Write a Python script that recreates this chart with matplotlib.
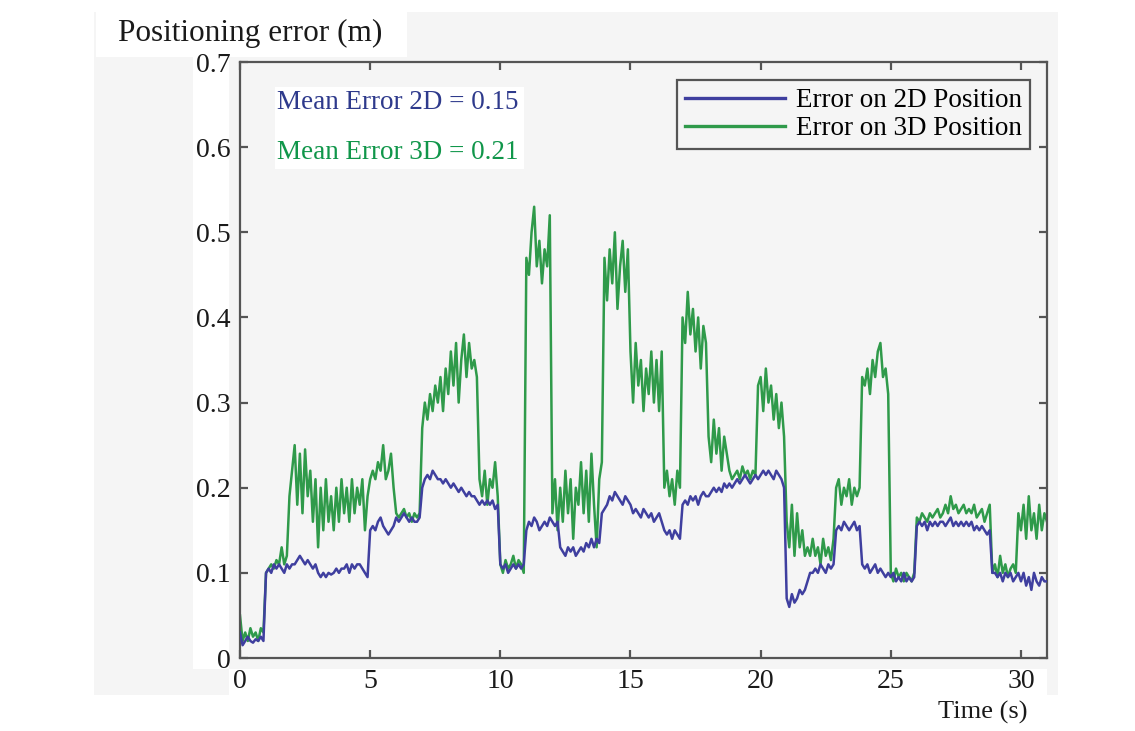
import numpy as np
import matplotlib
matplotlib.use("Agg")
import matplotlib.pyplot as plt
from matplotlib.patches import Rectangle

# ---------------- data (0.1 s sampling, t = 0.0 ... 31.0) ----------------
time_s = np.round(np.arange(0, 311) * 0.1, 1)

err_2d = [
    0.03, 0.015, 0.02, 0.025, 0.02, 0.018, 0.022, 0.02, 0.025, 0.02,          # 0
    0.10, 0.105, 0.10, 0.11, 0.105, 0.11, 0.105, 0.10, 0.11, 0.105,           # 1
    0.11, 0.11, 0.115, 0.12, 0.115, 0.11, 0.115, 0.11, 0.105, 0.11,           # 2
    0.10, 0.095, 0.10, 0.095, 0.10, 0.098, 0.10, 0.105, 0.10, 0.105,          # 3
    0.105, 0.11, 0.10, 0.11, 0.105, 0.11, 0.11, 0.105, 0.10, 0.095,           # 4
    0.15, 0.155, 0.15, 0.16, 0.165, 0.155, 0.15, 0.145, 0.15, 0.155,          # 5
    0.165, 0.16, 0.165, 0.17, 0.165, 0.16, 0.165, 0.16, 0.16, 0.165,          # 6
    0.20, 0.21, 0.215, 0.21, 0.22, 0.215, 0.21, 0.21, 0.205, 0.21,            # 7
    0.205, 0.20, 0.205, 0.20, 0.195, 0.20, 0.195, 0.19, 0.195, 0.19,          # 8
    0.19, 0.185, 0.18, 0.185, 0.18, 0.185, 0.18, 0.185, 0.175, 0.18,          # 9
    0.11, 0.105, 0.11, 0.10, 0.105, 0.11, 0.105, 0.11, 0.105, 0.11,           # 10
    0.15, 0.16, 0.155, 0.165, 0.16, 0.15, 0.155, 0.16, 0.155, 0.165,          # 11
    0.16, 0.155, 0.16, 0.13, 0.125, 0.12, 0.13, 0.125, 0.13, 0.12,            # 12
    0.125, 0.13, 0.125, 0.135, 0.13, 0.14, 0.13, 0.14, 0.135, 0.17,           # 13
    0.175, 0.18, 0.19, 0.185, 0.195, 0.19, 0.185, 0.18, 0.19, 0.185,          # 14
    0.18, 0.17, 0.175, 0.17, 0.165, 0.175, 0.17, 0.165, 0.17, 0.16,           # 15
    0.165, 0.17, 0.16, 0.15, 0.145, 0.15, 0.14, 0.15, 0.145, 0.14,            # 16
    0.18, 0.185, 0.18, 0.19, 0.185, 0.19, 0.18, 0.19, 0.195, 0.19,            # 17
    0.19, 0.195, 0.20, 0.195, 0.20, 0.195, 0.205, 0.20, 0.205, 0.20,          # 18
    0.205, 0.21, 0.205, 0.21, 0.215, 0.21, 0.205, 0.21, 0.215, 0.21,          # 19
    0.215, 0.22, 0.215, 0.22, 0.215, 0.21, 0.22, 0.215, 0.21, 0.20,           # 20
    0.07, 0.06, 0.075, 0.065, 0.07, 0.08, 0.075, 0.08, 0.09, 0.10,            # 21
    0.10, 0.105, 0.10, 0.11, 0.105, 0.10, 0.11, 0.105, 0.11, 0.15,            # 22
    0.155, 0.15, 0.16, 0.155, 0.15, 0.155, 0.16, 0.15, 0.155, 0.11,           # 23
    0.105, 0.11, 0.10, 0.105, 0.11, 0.10, 0.105, 0.10, 0.095, 0.10,           # 24
    0.095, 0.10, 0.09, 0.095, 0.09, 0.10, 0.09, 0.095, 0.09, 0.095,           # 25
    0.155, 0.16, 0.155, 0.16, 0.15, 0.16, 0.155, 0.16, 0.155, 0.16,           # 26
    0.16, 0.155, 0.16, 0.165, 0.155, 0.16, 0.155, 0.16, 0.155, 0.16,          # 27
    0.155, 0.16, 0.15, 0.155, 0.15, 0.155, 0.15, 0.145, 0.15, 0.10,           # 28
    0.10, 0.095, 0.10, 0.09, 0.10, 0.095, 0.10, 0.09, 0.095, 0.10,            # 29
    0.09, 0.10, 0.085, 0.095, 0.08, 0.10, 0.09, 0.085, 0.095, 0.09,           # 30
    0.09,                                                                      # 31.0
]

err_3d = [
    0.05, 0.02, 0.03, 0.02, 0.035, 0.025, 0.03, 0.02, 0.035, 0.03,            # 0
    0.10, 0.105, 0.11, 0.105, 0.115, 0.11, 0.13, 0.11, 0.12, 0.19,            # 1
    0.22, 0.25, 0.18, 0.24, 0.17, 0.245, 0.19, 0.22, 0.16, 0.21,              # 2
    0.13, 0.20, 0.15, 0.21, 0.16, 0.19, 0.15, 0.20, 0.16, 0.21,               # 3
    0.17, 0.20, 0.16, 0.21, 0.17, 0.20, 0.18, 0.21, 0.15, 0.19,               # 4
    0.21, 0.22, 0.21, 0.23, 0.22, 0.25, 0.21, 0.22, 0.24, 0.20,               # 5
    0.17, 0.165, 0.17, 0.175, 0.165, 0.17, 0.16, 0.17, 0.165, 0.17,           # 6
    0.27, 0.30, 0.28, 0.31, 0.29, 0.32, 0.30, 0.33, 0.29, 0.34,               # 7
    0.31, 0.36, 0.32, 0.37, 0.30, 0.35, 0.38, 0.33, 0.37, 0.34,               # 8
    0.35, 0.33, 0.21, 0.19, 0.22, 0.18, 0.21, 0.20, 0.23, 0.19,               # 9
    0.11, 0.10, 0.115, 0.105, 0.11, 0.12, 0.105, 0.115, 0.11, 0.10,           # 10
    0.47, 0.45, 0.50, 0.53, 0.46, 0.49, 0.44, 0.48, 0.46, 0.52,               # 11
    0.17, 0.21, 0.15, 0.20, 0.16, 0.22, 0.17, 0.21, 0.14, 0.20,               # 12
    0.18, 0.23, 0.17, 0.22, 0.16, 0.24, 0.18, 0.13, 0.21, 0.23,               # 13
    0.47, 0.42, 0.48, 0.44, 0.50, 0.41, 0.46, 0.49, 0.43, 0.48,               # 14
    0.36, 0.30, 0.37, 0.32, 0.35, 0.29, 0.34, 0.31, 0.36, 0.30,               # 15
    0.35, 0.29, 0.36, 0.20, 0.22, 0.19, 0.21, 0.18, 0.22, 0.20,               # 16
    0.40, 0.37, 0.43, 0.38, 0.41, 0.36, 0.40, 0.34, 0.39, 0.37,               # 17
    0.26, 0.23, 0.28, 0.24, 0.27, 0.22, 0.26, 0.24, 0.22, 0.21,               # 18
    0.215, 0.22, 0.21, 0.225, 0.215, 0.22, 0.21, 0.22, 0.215, 0.32,           # 19
    0.33, 0.29, 0.34, 0.30, 0.32, 0.28, 0.31, 0.27, 0.30, 0.26,               # 20
    0.16, 0.13, 0.18, 0.12, 0.17, 0.13, 0.15, 0.12, 0.13, 0.12,               # 21
    0.14, 0.12, 0.13, 0.11, 0.14, 0.12, 0.13, 0.115, 0.14, 0.20,              # 22
    0.21, 0.18, 0.20, 0.19, 0.21, 0.18, 0.20, 0.19, 0.20, 0.33,               # 23
    0.32, 0.34, 0.31, 0.35, 0.33, 0.36, 0.37, 0.33, 0.34, 0.31,               # 24
    0.10, 0.09, 0.105, 0.095, 0.10, 0.09, 0.10, 0.095, 0.09, 0.10,            # 25
    0.165, 0.16, 0.17, 0.165, 0.16, 0.17, 0.165, 0.17, 0.175, 0.165,          # 26
    0.17, 0.18, 0.17, 0.19, 0.175, 0.18, 0.17, 0.175, 0.18, 0.17,             # 27
    0.175, 0.17, 0.18, 0.165, 0.17, 0.175, 0.16, 0.17, 0.18, 0.10,            # 28
    0.11, 0.095, 0.12, 0.10, 0.11, 0.095, 0.105, 0.11, 0.10, 0.17,            # 29
    0.15, 0.18, 0.14, 0.19, 0.15, 0.17, 0.14, 0.18, 0.15, 0.17,               # 30
    0.16,                                                                      # 31.0
]

series_labels = ["Error on 2D Position", "Error on 3D Position"]
mean_labels = ["Mean Error 2D = 0.15", "Mean Error 3D = 0.21"]
x_ticks = [0, 5, 10, 15, 20, 25, 30]
y_ticks = [0, 0.1, 0.2, 0.3, 0.4, 0.5, 0.6, 0.7]
y_ticklabels = ["0", "0.1", "0.2", "0.3", "0.4", "0.5", "0.6", "0.7"]

# ---------------- figure ----------------
W, H = 1135, 731
plt.rcParams["font.family"] = ["Liberation Serif", "DejaVu Serif"]
fig = plt.figure(figsize=(W / 100, H / 100), dpi=100, facecolor="white")

def fig_rect(x0, y0, x1, y1, color):
    fig.patches.append(Rectangle((x0 / W, 1 - y1 / H), (x1 - x0) / W, (y1 - y0) / H,
                                 transform=fig.transFigure, facecolor=color,
                                 edgecolor="none", zorder=-10))

GRAY = "#f5f5f5"
fig_rect(94, 12, 1058, 695, GRAY)
fig_rect(96, 12, 407, 57, "white")
fig_rect(193, 57, 229, 669, "white")
fig_rect(229, 669, 1047, 695, "white")

ax_l, ax_r, ax_t, ax_b = 240, 1047, 62, 658
ax = fig.add_axes([ax_l / W, 1 - ax_b / H, (ax_r - ax_l) / W, (ax_b - ax_t) / H])
ax.set_facecolor(GRAY)

c2d = "#3f3f9f"
c3d = "#2f9a4a"
ax.plot(time_s, err_2d, color=c2d, lw=1.8, label=series_labels[0], zorder=3)
ax.plot(time_s, err_3d, color=c3d, lw=1.8, label=series_labels[1], zorder=2.5)

ax.set_xlim(0, 31)
ax.set_ylim(0, 0.7)
ax.set_xticks(x_ticks)
ax.set_yticks(y_ticks)
ax.set_yticklabels(y_ticklabels)

for s in ax.spines.values():
    s.set_color("#555555")
    s.set_linewidth(1.6)
ax.tick_params(direction="in", length=6, width=1.6, color="#555555",
               top=True, right=True, labelsize=20, labelcolor="#1a1a1a")
ax.tick_params(axis="x", pad=8)
ax.tick_params(axis="y", pad=7)

# white box behind mean texts
ax.add_patch(Rectangle((1.34, 0.574), 9.58, 0.097, facecolor="white",
                       edgecolor="none", zorder=1))
ax.text(1.42, 0.653, mean_labels[0], color="#2e3a8c", fontsize=19.5,
        va="center", ha="left", zorder=4)
ax.text(1.42, 0.594, mean_labels[1], color="#10964a", fontsize=19.5,
        va="center", ha="left", zorder=4)

leg = ax.legend(loc="upper right", bbox_to_anchor=(0.979, 0.970), fontsize=19.5,
                handlelength=3.7, handletextpad=0.4, borderpad=0.3,
                labelspacing=0.12, fancybox=False, framealpha=1,
                facecolor=GRAY, edgecolor="#555555", borderaxespad=0)
leg.get_frame().set_linewidth(1.6)
for h in leg.get_lines():
    h.set_linewidth(2.4)

fig.text(118 / W, 1 - 33 / H, "Positioning error (m)", fontsize=22.5,
         ha="left", va="center", color="#1a1a1a")
fig.text(1027 / W, 1 - 712 / H, "Time (s)", fontsize=19,
         ha="right", va="center", color="#1a1a1a")

fig.savefig("out.png", dpi=100, facecolor="white")
